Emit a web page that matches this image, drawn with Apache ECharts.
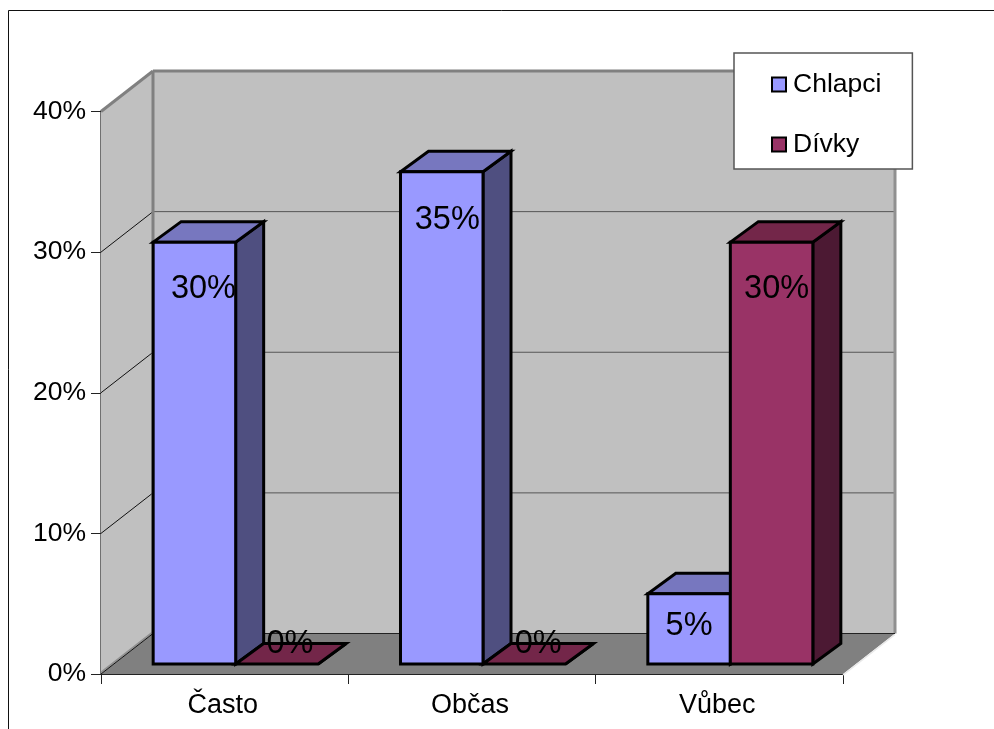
<!DOCTYPE html>
<html>
<head>
<meta charset="utf-8">
<style>html,body{margin:0;padding:0;background:#fff}#c{width:994px;height:729px}</style>
<script src="https://cdn.jsdelivr.net/npm/echarts@6/dist/echarts.min.js"></script>
</head>
<body>
<div id="c"></div>
<script>
var categories = ['Často', 'Občas', 'Vůbec'];
var chlapci = [30, 35, 5];
var divky = [0, 0, 30];
var yTicks = [0, 10, 20, 30, 40];

var FONT = '"Liberation Sans", Arial, sans-serif';
var WALL = {dx: 52, dy: -40.5};
var BAR_FRONT = {dx: 11, dy: -10};
var BAR_DEPTH = {dx: 28, dy: -20.5};
var BAR_W = 82.5;
var colorsA = {front: '#9999FF', top: '#7777BF', side: '#4F4F80'};
var colorsB = {front: '#993366', top: '#732649', side: '#4C1933'};
// hand-placed label offsets of the original: [series][category] -> [dx, dy from bar top]
var labelNudgeA = [[9, 47], [5.5, 48.5], [0, 32.5]];
var labelNudgeB = [[13, -20], [14, -20], [5, 47]];

function poly(pts, fill, stroke, lw, z) {
  return {type: 'polygon', z2: z || 0, shape: {points: pts},
    style: {fill: fill, stroke: stroke || null, lineWidth: lw || 0, lineJoin: 'miter'}};
}
function line(p, q, color, lw, z) {
  return {type: 'line', z2: z || 0, shape: {x1: p[0], y1: p[1], x2: q[0], y2: q[1]},
    style: {stroke: color, lineWidth: lw}};
}

function renderWalls(params, api) {
  var cs = params.coordSys;
  var l = cs.x, r = cs.x + cs.width;
  var y0 = api.coord([0, 0])[1], yT = api.coord([0, 40])[1];
  var d = WALL;
  var kids = [
    poly([[l, y0], [l + d.dx, y0 + d.dy], [l + d.dx, yT + d.dy], [l, yT]], '#C0C0C0'),
    poly([[l + d.dx, y0 + d.dy], [r + d.dx, y0 + d.dy], [r + d.dx, yT + d.dy], [l + d.dx, yT + d.dy]], '#C0C0C0'),
    poly([[l, y0], [r, y0], [r + d.dx, y0 + d.dy], [l + d.dx, y0 + d.dy]], '#808080')
  ];
  yTicks.forEach(function (t) {
    if (t === 0 || t === 40) return;
    var y = api.coord([0, t])[1];
    kids.push(line([l, y], [l + d.dx, y + d.dy], '#111', 1, 1));
    kids.push(line([l + d.dx, y + d.dy], [r + d.dx, y + d.dy], '#555', 1, 1));
  });
  kids.push(line([l + d.dx, yT + d.dy], [r + d.dx, yT + d.dy], '#808080', 3, 2));
  kids.push(line([l, yT], [l + d.dx, yT + d.dy], '#808080', 3, 2));
  kids.push(line([l + d.dx, y0 + d.dy], [l + d.dx, yT + d.dy], '#808080', 3, 2));
  kids.push(line([r + d.dx, y0 + d.dy], [r + d.dx, yT + d.dy], '#909090', 3, 2));
  kids.push(line([l, y0 - 1.5], [l + d.dx, y0 + d.dy - 1.5], '#909090', 2, 2));
  kids.push(line([l, y0], [l + d.dx, y0 + d.dy], '#111', 1, 3));
  kids.push(line([l + d.dx, y0 + d.dy], [r + d.dx, y0 + d.dy], '#222', 1, 3));
  kids.push(line([r, y0 + 1], [r + d.dx, y0 + d.dy + 1], '#e8e8e8', 1.5, 3));
  return {type: 'group', children: kids};
}

function barRenderer(sign, colors, nudge) {
  return function (params, api) {
    var i = api.value(0), v = api.value(1);
    var c0 = api.coord([i, 0]), c1 = api.coord([i, v]);
    var xMid = c0[0] + BAR_FRONT.dx;
    var x1 = sign < 0 ? xMid - BAR_W : xMid;
    var x2 = x1 + BAR_W;
    var yb = c0[1] + BAR_FRONT.dy, yt = c1[1] + BAR_FRONT.dy;
    var dd = BAR_DEPTH;
    var lw = 3, kids = [];
    kids.push(poly([[x2, yb], [x2 + dd.dx, yb + dd.dy], [x2 + dd.dx, yt + dd.dy], [x2, yt]], colors.side, '#000', lw));
    kids.push(poly([[x1, yt], [x2, yt], [x2 + dd.dx, yt + dd.dy], [x1 + dd.dx, yt + dd.dy]], colors.top, '#000', lw));
    if (v > 0) kids.push(poly([[x1, yb], [x2, yb], [x2, yt], [x1, yt]], colors.front, '#000', lw));
    var n = nudge[i];
    kids.push({type: 'text', z2: 10, style: {
      text: v + '%', x: (x1 + x2) / 2 + n[0], y: yt + n[1],
      align: 'center', verticalAlign: 'middle', font: '32.5px ' + FONT, fill: '#000'
    }});
    return {type: 'group', children: kids};
  };
}

var option = {
  animation: false,
  backgroundColor: '#fff',
  textStyle: {fontFamily: FONT},
  grid: {left: 101, right: 151, top: 111.5, bottom: 55},
  legend: {
    left: 734, top: 53, orient: 'vertical', align: 'left', z: 20,
    backgroundColor: '#fff', borderColor: '#555', borderWidth: 1.5, borderRadius: 0,
    padding: [18, 31, 11, 37], itemWidth: 14, itemHeight: 14, itemGap: 33,
    selectedMode: false,
    textStyle: {fontSize: 26.5, color: '#000', fontFamily: FONT, padding: [0, 0, 0, 2]},
    data: [
      {name: 'Chlapci', icon: 'rect', itemStyle: {color: colorsA.front, borderColor: '#000', borderWidth: 2}},
      {name: 'Dívky', icon: 'rect', itemStyle: {color: colorsB.front, borderColor: '#000', borderWidth: 2}}
    ]
  },
  xAxis: {
    type: 'category', data: categories, boundaryGap: true,
    axisLine: {show: true, onZero: false, lineStyle: {color: '#222', width: 1}},
    axisTick: {show: true, alignWithLabel: false, length: 10, lineStyle: {color: '#222', width: 1}},
    axisLabel: {fontSize: 27, color: '#000', margin: 18, fontFamily: FONT, padding: [0, 4, 0, 0]},
    splitLine: {show: false}
  },
  yAxis: {
    type: 'value', min: 0, max: 40, interval: 10,
    axisLine: {show: true, lineStyle: {color: '#707070', width: 2}},
    axisTick: {show: true, length: 10, lineStyle: {color: '#222', width: 1}},
    axisLabel: {fontSize: 26.5, color: '#000', margin: 15, fontFamily: FONT, padding: [2, 0, 0, 0], formatter: '{value}%'},
    splitLine: {show: false}
  },
  series: [
    {type: 'custom', name: '_walls', silent: true, z: 1, clip: false, data: [[0, 0]],
     encode: {x: 0, y: 1}, renderItem: renderWalls},
    {type: 'custom', name: 'Chlapci', z: 3, clip: false, itemStyle: {color: colorsA.front},
     encode: {x: 0, y: 1},
     data: chlapci.map(function (v, i) { return [i, v]; }),
     renderItem: barRenderer(-1, colorsA, labelNudgeA)},
    {type: 'custom', name: 'Dívky', z: 4, clip: false, itemStyle: {color: colorsB.front},
     encode: {x: 0, y: 1},
     data: divky.map(function (v, i) { return [i, v]; }),
     renderItem: barRenderer(1, colorsB, labelNudgeB)}
  ],
  graphic: [
    {type: 'line', z: 50, shape: {x1: 8.5, y1: 10.5, x2: 994, y2: 10.5}, style: {stroke: '#111', lineWidth: 1}},
    {type: 'line', z: 50, shape: {x1: 8.5, y1: 10.5, x2: 8.5, y2: 729}, style: {stroke: '#111', lineWidth: 1}}
  ]
};
var chart = echarts.init(document.getElementById('c'), null, {renderer: 'canvas'});
chart.setOption(option);
</script>
</body>
</html>
